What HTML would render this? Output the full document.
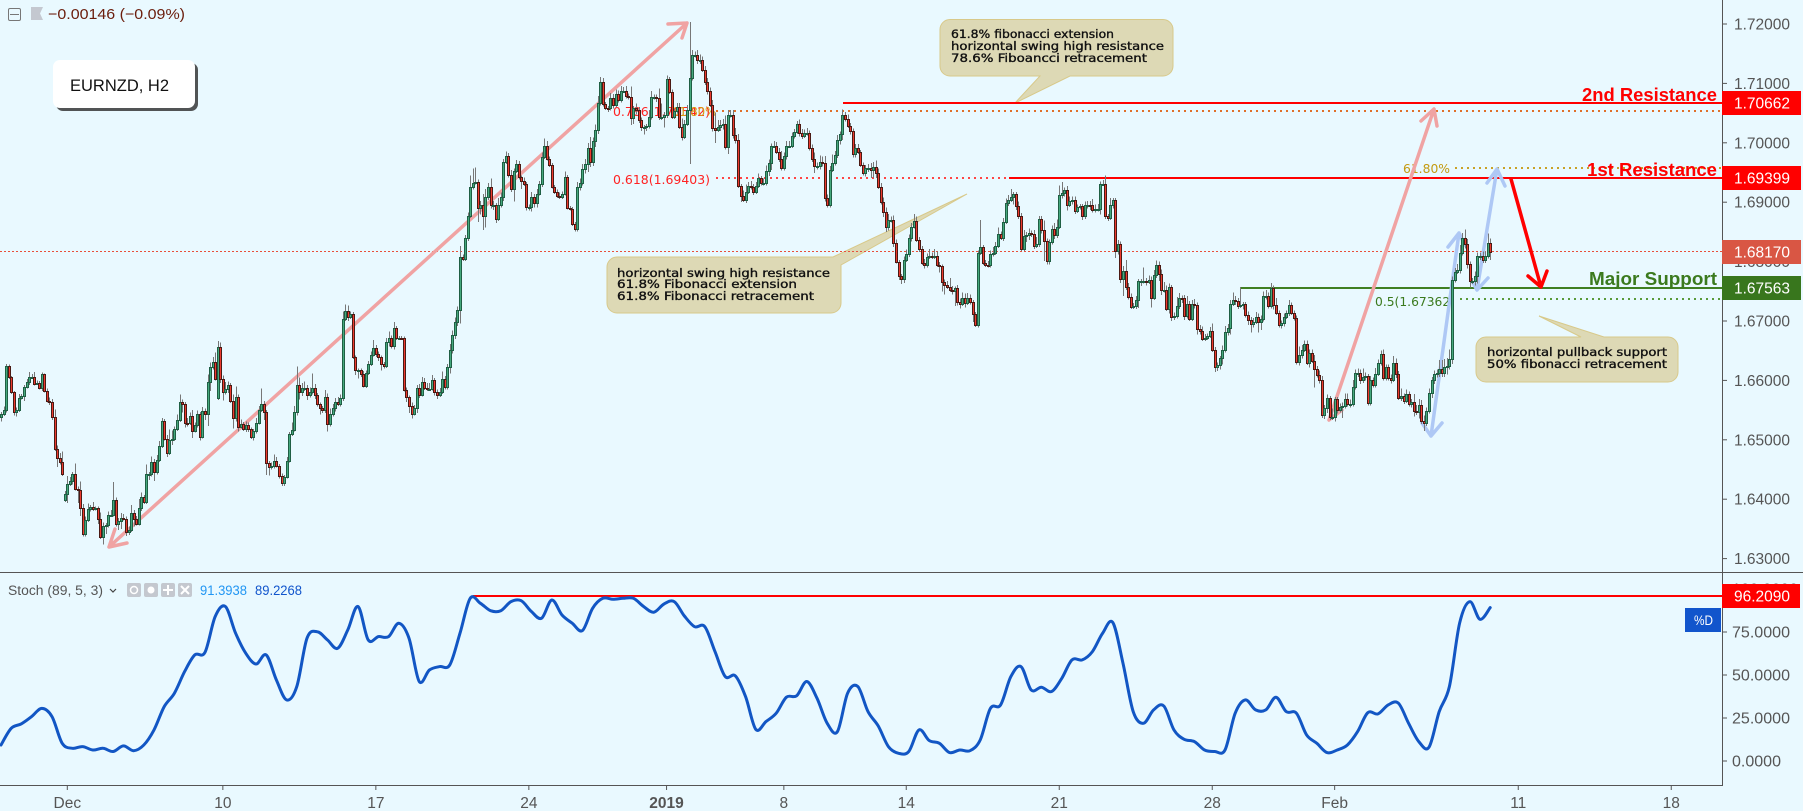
<!DOCTYPE html>
<html lang="en">
<head>
<meta charset="utf-8">
<title>EURNZD H2 chart</title>
<style>
html,body{margin:0;padding:0;background:#e9f9ff;}
#chart{display:block;width:1803px;height:811px;background:#e9f9ff;font-family:"Liberation Sans",sans-serif;}
.note{font-family:"DejaVu Sans",sans-serif;font-size:11.5px;fill:#111;stroke:#111;stroke-width:.35px;}
.fib{font-family:"DejaVu Sans",sans-serif;font-size:12.5px;}
.axis{font-size:15.5px;fill:#555;}
.tag{font-size:15.5px;fill:#fff;}
.lvl{font-size:18px;font-weight:bold;text-anchor:end;}
</style>
</head>
<body>
<svg id="chart" xmlns="http://www.w3.org/2000/svg" width="1803" height="811" viewBox="0 0 1803 811">
  <g id="notes">
    <path d="M950 19.5H1163a10 10 0 0 1 10 10V66a10 10 0 0 1-10 10H1070L1015 103L1040 76H950a10 10 0 0 1-10-10V29.5a10 10 0 0 1 10-10Z" fill="#ddd9b5" stroke="#d8c98a"/>
    <text class="note" x="951" y="38" textLength="163" lengthAdjust="spacingAndGlyphs">61.8% fibonacci extension</text>
    <text class="note" x="951" y="50" textLength="213" lengthAdjust="spacingAndGlyphs">horizontal swing high resistance</text>
    <text class="note" x="951" y="62" textLength="196" lengthAdjust="spacingAndGlyphs">78.6% Fiboancci retracement</text>
    <path d="M617 257H833L967 194L841 265V303a10 10 0 0 1-10 10H617a10 10 0 0 1-10-10V267a10 10 0 0 1 10-10Z" fill="#ddd9b5" stroke="#d8c98a"/>
    <text class="note" x="617" y="277" textLength="213" lengthAdjust="spacingAndGlyphs">horizontal swing high resistance</text>
    <text class="note" x="617" y="288" textLength="180" lengthAdjust="spacingAndGlyphs">61.8% Fibonacci extension</text>
    <text class="note" x="617" y="300" textLength="197" lengthAdjust="spacingAndGlyphs">61.8% Fibonacci retracement</text>
    <path d="M1486 337H1581L1539 316L1604 337H1668a10 10 0 0 1 10 10V372a10 10 0 0 1-10 10H1486a10 10 0 0 1-10-10V347a10 10 0 0 1 10-10Z" fill="#ddd9b5" stroke="#d8c98a"/>
    <text class="note" x="1487" y="356" textLength="180" lengthAdjust="spacingAndGlyphs">horizontal pullback support</text>
    <text class="note" x="1487" y="368" textLength="180" lengthAdjust="spacingAndGlyphs">50% fibonacci retracement</text>
  </g>
  <g id="levels"></g>
  <g>
    <text class="fib" x="613" y="116" fill="#f22" textLength="97" lengthAdjust="spacingAndGlyphs">0.786(1.70542)</text>
    <text class="fib" x="672" y="116" fill="#d89a10" textLength="44" lengthAdjust="spacingAndGlyphs">61.80%</text>
    <text class="fib" x="613" y="184" fill="#f22" textLength="97" lengthAdjust="spacingAndGlyphs">0.618(1.69403)</text>
    <text class="fib" x="1375" y="306" fill="#3b7a1e" textLength="80" lengthAdjust="spacingAndGlyphs">0.5(1.67362)</text>
    <text class="fib" x="1403" y="173" fill="#c49a10" textLength="47" lengthAdjust="spacingAndGlyphs">61.80%</text>
  </g>
  <g fill="none" stroke-linecap="round" stroke-linejoin="round" stroke-width="3.5">
    <path stroke="#f0a3a3" d="M109 547L687 23M668 24L687 23L682 38M115 529L109 547L127 543"/>
    <path stroke="#f0a3a3" d="M1329 420L1434 109M1421 121L1434 109L1437 126M1329 420L1342 410"/>
    <path stroke="#aec8f5" d="M1431 436L1459 233M1448 247L1459 233L1465 245M1422 423L1431 436L1442 423"/>
    <path stroke="#aec8f5" d="M1477 290L1497 169M1487 183L1497 169L1505 186M1473 283L1477 290L1488 278"/>
    <path stroke="#ff0000" d="M1511 179L1541 287M1528 276L1541 287L1547 271"/>
  </g>
  <g id="candles"></g>
  <g id="axes">
    <line x1="1722.5" y1="0" x2="1722.5" y2="786" stroke="#555"/>
    <line x1="0" y1="785.5" x2="1723" y2="785.5" stroke="#555"/>
    <line x1="0" y1="572.5" x2="1803" y2="572.5" stroke="#555"/>
  </g>
  <g id="stoch"></g>
  <g>
    <text class="lvl" x="1717" y="101" fill="#f00" textLength="135" lengthAdjust="spacingAndGlyphs">2nd Resistance</text>
    <text class="lvl" x="1717" y="176" fill="#f00" textLength="130" lengthAdjust="spacingAndGlyphs">1st Resistance</text>
    <text class="lvl" x="1717" y="285" fill="#3b7a1e" textLength="128" lengthAdjust="spacingAndGlyphs">Major Support</text>
  </g>
  <g id="tags"></g>
  <g>
    <rect x="8.5" y="8.5" width="12" height="12" rx="1.5" fill="none" stroke="#777"/>
    <line x1="10" y1="14.5" x2="19" y2="14.5" stroke="#777"/>
    <polygon points="31,7 43,7 40,13.5 43,20 31,20" fill="#c4c8d0"/>
    <text x="48" y="19" font-size="15" fill="#6b1d0c" textLength="137" lengthAdjust="spacingAndGlyphs">−0.00146 (−0.09%)</text>
  </g>
  <g>
    <rect x="56" y="63" width="142" height="48" rx="7" fill="#2a2a2a" opacity=".8"/>
    <rect x="53" y="60" width="142" height="48" rx="7" fill="#fff"/>
    <text x="70" y="91" font-size="16.5" fill="#111" textLength="99" lengthAdjust="spacingAndGlyphs">EURNZD, H2</text>
  </g>
  <g>
    <text x="8" y="595" font-size="13.5" fill="#555" textLength="95" lengthAdjust="spacingAndGlyphs">Stoch (89, 5, 3)</text>
    <path d="M110 589L113 592L116 589" fill="none" stroke="#444" stroke-width="1.2"/>
    <rect x="127" y="583" width="14" height="14" rx="2" fill="#c4c8cf"/>
    <circle cx="134" cy="590" r="3.5" fill="none" stroke="#fff" stroke-width="1.5"/>
    <rect x="144" y="583" width="14" height="14" rx="2" fill="#c4c8cf"/>
    <circle cx="151" cy="590" r="3.5" fill="#fff"/>
    <rect x="161" y="583" width="14" height="14" rx="2" fill="#c4c8cf"/>
    <path d="M168 585V595M163 590H173" stroke="#fff" stroke-width="2"/>
    <rect x="178" y="583" width="14" height="14" rx="2" fill="#c4c8cf"/>
    <path d="M181 586L189 594M189 586L181 594" stroke="#fff" stroke-width="2"/>
    <text x="200" y="595" font-size="13.5" fill="#2196f3" textLength="47" lengthAdjust="spacingAndGlyphs">91.3938</text>
    <text x="255" y="595" font-size="13.5" fill="#1155cc" textLength="47" lengthAdjust="spacingAndGlyphs">89.2268</text>
  </g>
</svg>
<script>
// Bar closes, in units of 0.0001 (16817 = 1.6817)
const closes = [
16543,16550,16625,16605,16580,16547,16551,16571,16573,16589,16598,16606,16606,16594,16596,16588,16610,16582,16566,16563,
16539,16484,16470,16462,16442,16408,16425,16431,16442,16418,16416,16386,16341,16365,16383,16387,16384,16385,16366,16336,
16355,16356,16373,16374,16399,16358,16364,16369,16367,16344,16348,16376,16366,16359,16386,16403,16396,16442,16442,16462,
16445,16466,16490,16531,16502,16477,16499,16502,16518,16533,16564,16560,16529,16528,16540,16515,16525,16543,16505,16549,
16543,16598,16622,16631,
16603,16656,16602,16580,16585,16592,16566,16537,16572,16522,16526,16519,16525,16518,16505,16514,16529,16551,16560,16547,
16461,16454,16456,16465,16456,16439,16428,16438,16465,16509,16517,16547,16593,16580,16588,16588,16575,16580,16588,16575,
16560,16553,16551,16572,16526,16543,16554,16564,16560,16571,
16704,16716,16706,16712,16639,16617,16617,16610,16591,16613,16627,16643,16654,16645,16639,16627,16624,16665,16672,16658,
16688,16672,16672,16671,16584,16572,16557,16544,16553,16588,16576,16598,16588,16586,16586,16601,16581,16575,16581,16603,
16589,16622,
16651,16676,16698,
16718,16808,16805,16839,16877,16925,16933,16934,16891,16896,16877,16908,16926,16895,16896,16871,16895,16908,16967,16977,
16946,16923,16953,16965,16942,16936,16930,16892,16892,16909,16899,16914,16930,16976,16995,16973,16963,16926,16917,16910,
16909,16914,16942,16891,16889,16864,16855,16926,16932,16956,16965,16992,16967,17003,17021,
17067,17103,17065,17059,17058,17076,17064,17082,17072,17088,17088,17079,17077,17042,17058,17056,17039,17026,17026,17028,
17043,17077,17077,17075,17044,17044,17046,17107,17086,17044,17053,17061,17027,17010,17032,17056,17109,17148,17148,17139,
17139,17123,17103,17087,17064,17025,17022,17026,17030,17032,16993,17047,17047,17013,17005,16928,16910,16903,16918,16928,16925,
16918,16928,16940,16932,16932,16952,16966,16995,16995,16985,16972,16957,16978,16995,16995,17011,17019,17031,17017,17012,
17016,17017,16991,16972,16961,16961,16967,16966,16907,16895,16955,16966,16980,17005,17015,17046,17040,17029,17020,16981,
16992,16985,16963,16949,16957,16958,16955,16960,16949,16926,16900,16883,16858,16870,16870,16831,16800,16775,
16770,16803,16812,16840,16859,16868,16837,16822,16798,16794,16808,16809,16808,16809,16795,16792,16766,16761,16758,16753,
16751,16755,16732,16729,16738,16731,16739,16732,16712,16693,16815,
16824,16797,16795,16794,16813,16815,16827,16847,16839,16867,16898,16904,16908,16913,16893,16876,16822,16843,16844,16848,
16847,16827,16829,16871,16853,16835,16801,16833,16855,16844,16859,16912,
16916,16921,16896,16902,16904,16886,16892,16893,16876,16895,16896,16895,16887,16888,16889,16931,
16931,16876,16874,16895,16903,16818,
16830,16770,16785,16758,16740,16724,16726,16736,16767,16767,16768,16766,16769,16739,16778,
16794,16779,16752,16752,16721,16757,16706,16708,16726,16739,16738,16708,16728,16704,16729,16727,16687,
16683,16670,16672,16675,16684,16652,16622,16626,16637,16651,16682,16689,16729,
16736,16733,16726,16727,16728,16710,16701,
16695,16699,16707,16699,16703,16742,16742,16725,16756,16727,16714,16693,16697,16707,16714,16727,16714,16705,16631,16643,
16652,16661,16630,16646,16633,16620,16609,16601,16541,16553,16570,16539,16539,16568,16550,16555,16557,16568,16560,16560,
16589,16612,16612,16600,16606,16607,16562,16601,16592,16611,16629,16644,16604,16623,16604,16601,16629,16610,16571,16574,16566,
16577,16560,16563,16549,16546,16559,16531,16529,16548,16578,16600,16611,16612,16620,16612,16622,16624,16636,16769,16783,
16786,
16814,16840,16830,16796,16768,16768,16775,16809,16809,16802,16809,16831,16817
];
// Upper wick length per bar, same units
const upperWicks = [
4,6,3,2,2,2,3,6,4,3,4,8,5,8,4,3,3,2,4,5,
6,12,6,8,18,6,14,6,4,18,3,14,6,6,10,3,8,3,3,12,
6,4,6,8,30,4,4,8,6,4,6,14,6,6,14,8,4,16,4,10,
6,8,8,6,4,6,18,14,4,10,12,4,4,8,6,10,4,6,4,6,
4,12,8,8,16,10,8,6,12,6,4,10,18,4,8,4,6,4,3,4,
8,6,26,5,3,3,6,10,6,3,4,3,6,4,12,10,30,12,8,10,
4,8,24,6,4,3,4,12,6,10,6,6,8,5,12,12,10,4,3,3,
3,3,6,4,6,6,14,6,4,3,4,6,10,4,10,4,3,3,3,4,
3,6,6,4,6,8,6,8,10,8,3,4,6,12,4,6,10,8,8,6,
18,4,6,6,20,24,24,4,6,18,14,6,14,6,3,12,8,6,8,6,
8,4,6,4,3,6,4,4,8,5,8,6,8,12,8,4,3,3,4,6,
4,10,4,3,3,3,8,8,8,8,8,18,6,10,12,8,6,4,3,8,
6,8,6,8,6,8,4,18,4,8,4,4,4,4,12,10,4,4,16,22,
6,6,4,4,4,6,6,14,6,8,94,8,6,8,10,6,6,6,6,8,
26,12,8,8,14,8,8,8,12,10,3,10,12,6,8,6,6,8,4,8,
10,6,4,8,6,6,14,6,8,8,6,4,6,8,6,6,8,4,6,12,
6,12,10,12,6,6,14,6,8,4,10,6,8,4,4,6,6,3,4,6,
6,8,8,10,8,6,8,8,10,6,8,6,3,4,6,8,6,6,12,8,
4,4,6,6,12,6,12,8,4,3,4,6,14,6,3,6,6,10,8,8,
6,3,3,4,46,4,6,6,6,10,6,10,4,6,8,8,14,4,4,8,
6,10,6,8,4,6,12,6,6,16,4,4,6,10,12,16,18,4,6,8,
6,6,4,4,4,6,6,6,10,8,8,4,6,14,4,12,4,4,6,4,
8,18,6,6,4,6,4,4,22,4,8,6,8,8,6,8,14,8,6,4,
6,14,8,4,6,14,6,6,8,4,6,8,6,4,6,12,4,4,4,8,
10,6,6,12,6,6,30,4,4,6,6,6,8,6,6,8,10,6,8,4,
12,4,4,6,4,8,4,4,4,14,8,6,6,6,6,10,4,8,6,6,
6,4,14,4,4,6,6,10,10,8,12,6,8,6,14,6,4,6,4,10,
6,6,8,4,4,6,12,8,6,12,4,8,4,6,14,10,10,8,10,6,
8,6,6,6,14,14,14,14,16,6,6,10,14,8,14,8,4,4,8,6,
6,8,8,16,8
];
// Lower wick length per bar, same units
const lowerWicks = [
8,3,4,3,3,6,8,4,3,8,3,6,4,3,2,3,6,2,3,4,
6,3,16,4,3,4,14,3,6,3,22,14,4,4,3,4,4,3,8,3,
12,14,4,3,3,4,10,14,3,6,4,3,12,3,3,6,4,4,10,4,
14,3,3,4,3,6,3,8,4,3,3,14,8,6,3,12,3,4,6,3,
10,20,16,4,3,3,6,14,4,6,4,18,6,8,3,4,6,5,4,6,
3,3,4,14,20,14,4,4,3,4,6,6,3,3,3,3,6,12,6,6,
8,4,4,6,4,10,6,6,12,4,4,6,3,4,6,4,6,3,3,8,
14,4,3,4,4,3,3,6,6,10,4,3,8,4,6,4,3,3,3,8,
12,8,3,8,6,3,4,4,4,3,6,6,3,4,4,4,10,6,6,6,
22,4,4,4,4,4,3,24,12,24,20,4,6,8,6,3,4,6,3,4,
6,22,4,4,14,3,6,6,8,8,8,3,4,3,3,4,3,3,3,4,
4,3,3,3,4,4,4,6,4,8,14,8,6,10,6,4,4,4,6,4,
6,4,4,4,4,4,4,12,10,8,6,6,12,6,4,4,4,6,6,6,
18,4,4,4,4,4,4,6,4,4,92,4,4,6,6,4,6,6,4,6,
22,4,6,8,4,12,4,6,6,4,10,3,4,4,4,6,4,4,4,4,
4,8,12,4,4,4,4,4,6,4,4,4,4,6,6,4,4,4,4,12,
6,6,6,6,4,4,4,4,6,8,10,4,4,6,6,6,4,4,4,6,
6,14,14,8,4,4,8,8,6,4,6,3,6,8,6,4,4,6,3,4,
6,4,6,4,4,4,4,4,10,16,16,4,4,6,26,6,8,4,8,4,
4,14,3,4,4,3,4,4,4,4,4,4,3,4,4,4,4,12,6,4,
4,4,10,8,6,6,4,4,6,34,6,6,4,6,4,4,6,6,10,4,
6,6,4,4,6,4,6,8,4,4,4,10,4,4,6,4,6,12,6,6,
28,6,4,4,4,6,14,8,4,6,4,16,4,6,12,8,4,4,8,6,
4,4,6,8,6,4,4,4,6,10,6,4,4,4,4,4,8,6,8,10,
4,6,12,4,6,6,4,8,4,8,14,6,4,18,14,4,6,4,4,8,
4,4,6,6,4,6,4,4,4,6,6,4,4,8,4,32,4,6,4,6,
8,6,6,8,6,4,18,4,4,6,4,4,6,6,4,6,4,4,4,4,
4,4,4,4,4,6,4,6,4,6,6,4,4,6,10,4,10,4,14,6,
4,8,6,6,6,6,6,12,6,8,4,4,6,4,8,8,12,6,8,12,
6,4,4,4,14
];
// Bars whose open gaps away from the previous close
const gapBars = [25, 85];
const gapOpens = [16399, 16570];
// Stochastic %D, sampled every 4 bars
const stochD = [
9.3,19,21.6,25.8,30.6,25.8,10.3,7.4,8.4,6.4,7.4,5.5,8.8,6,9.3,18.1,31.6,39.4,52,61.7,
63.2,84,89.8,74.3,62.6,56.4,61.7,47.1,35.5,43.3,71.4,75.2,70.4,65.5,76.2,89.8,70.4,72.3,72.3,80.1,
71.4,46.2,52.9,54.9,55.9,74.3,94.6,91.7,87.4,87.4,92.7,93.2,86.9,83,93.6,84.9,80.1,75.8,88.8,94.6,
94,94.6,94.6,89.8,86.5,91.3,92.7,84.3,78.1,78.1,63.6,49.1,49.5,37.4,18.4,22.9,27.8,37.1,37.9,46.2,
36.5,21.9,17.1,39.4,43.3,28.7,20.4,8.4,4.5,5.5,18.1,11.9,10.3,4.9,6.4,6,12.2,30.6,32.6,49,
54.9,41.3,42.9,40.4,48.1,58.8,58.8,63.6,74.3,80.5,56.8,28.7,21.9,29.7,32,18,12.6,11.3,6.4,5.5,
6.4,27.8,35.5,29.7,29.7,37.1,28.7,27.8,15.2,10.3,4.9,6.4,9.3,17.1,28.1,27.4,32.6,33.6,21.9,11.3,
8,28.7,43.3,80.1,92.7,82.4,89.2
];
const stochSampleBars = 4;
// Axis labels
const priceTickLabels = ["1.72000","1.71000","1.70000","1.69000","1.68000","1.67000","1.66000","1.65000","1.64000","1.63000"];
const stochTickLabels = ["100.0000","75.0000","50.0000","25.0000","0.0000"];
const timeLabels = ["Dec","10","17","24","2019","8","14","21","28","Feb","11","18"];
const timeBars = [26,87,147,207,261,307,355,415,475,523,595,655];
// Drawn levels
const resistance2 = 1.70662, resistance1 = 1.69399, support = 1.67563;
const fib786 = 1.70542, fib618 = 1.69403, fib50 = 1.67362, ext618 = 1.69580;
const lastPrice = 1.68170;
const stochCap = 96.2090;

const SVGNS = "http://www.w3.org/2000/svg";
const barX = i => 1 + i * 2.55;
const priceY = p => 24 + (1.72 - p) * 5940;
const unitY = u => priceY(u / 10000);
const stochY = v => 761 - v * 1.72;
const crispY = y => Math.floor(y) + 0.5;
const evenY = y => Math.round(y);
function mk(parent, tag, attrs, text) {
  const el = document.createElementNS(SVGNS, tag);
  for (const k in attrs) el.setAttribute(k, attrs[k]);
  if (text !== undefined) el.textContent = text;
  parent.appendChild(el);
  return el;
}
const levelsG = document.getElementById("levels");
const candlesG = document.getElementById("candles");
const axesG = document.getElementById("axes");
const stochG = document.getElementById("stoch");
const tagsG = document.getElementById("tags");

// last price line
let el = mk(levelsG, "line", {x1:0, x2:1722, y1:crispY(priceY(lastPrice)), y2:crispY(priceY(lastPrice)), stroke:"#e8503a", "stroke-dasharray":"2 2"});


// fib dotted lines
el = mk(levelsG, "line", {x1:716, x2:1722, y1:evenY(priceY(fib786)), y2:evenY(priceY(fib786)), stroke:"#e0702a", "stroke-width":2, "stroke-dasharray":"2 4"});


el = mk(levelsG, "line", {x1:716, x2:1009, y1:evenY(priceY(fib618)), y2:evenY(priceY(fib618)), stroke:"#f44", "stroke-width":2, "stroke-dasharray":"2 4"});


el = mk(levelsG, "line", {x1:1460, x2:1722, y1:evenY(priceY(fib50)), y2:evenY(priceY(fib50)), stroke:"#5a9a3a", "stroke-width":2, "stroke-dasharray":"2 4"});


el = mk(levelsG, "line", {x1:1455, x2:1722, y1:evenY(priceY(ext618)), y2:evenY(priceY(ext618)), stroke:"#c9a227", "stroke-width":2, "stroke-dasharray":"2 4"});


// solid levels
el = mk(levelsG, "line", {x1:843, x2:1722, y1:evenY(priceY(resistance2)), y2:evenY(priceY(resistance2)), stroke:"#ff0000", "stroke-width":2});


el = mk(levelsG, "line", {x1:1009, x2:1722, y1:evenY(priceY(resistance1)), y2:evenY(priceY(resistance1)), stroke:"#ff0000", "stroke-width":2});


el = mk(levelsG, "line", {x1:1241, x2:1722, y1:evenY(priceY(support)), y2:evenY(priceY(support)), stroke:"#3f7f22", "stroke-width":2});



// candles
closes.forEach((c, i) => {
  const g = gapBars.indexOf(i);
  const o = g >= 0 ? gapOpens[g] : (i ? closes[i - 1] : c - 4);
  const hi = Math.max(o, c) + (upperWicks[i] || 0);
  const lo = Math.min(o, c) - (lowerWicks[i] || 0);
  const up = c >= o;
  const cx = Math.round(barX(i));
  const wick = mk(candlesG, "line", {x1:cx + .5, x2:cx + .5, y1:unitY(hi), y2:unitY(lo), stroke:"#777", "shape-rendering":"crispEdges"});
  
  
  const top = Math.round(unitY(Math.max(o, c))) + .5;
  const bot = Math.round(unitY(Math.min(o, c))) + .5;
  const body = mk(candlesG, "rect", {x:cx - .5, y:top, width:2, height:Math.max(bot - top, 1), fill:up ? "#45a87d" : "#ec3a2e", stroke:up ? "#1f5f44" : "#4a1a14", "shape-rendering":"crispEdges"});
  
  
});

// price axis
priceTickLabels.forEach(t => {
  const y = priceY(parseFloat(t));
  const tk = mk(axesG, "line", {x1:1722, x2:1727, y1:y, y2:y, stroke:"#555"});
  
  
  const lb = mk(axesG, "text", {x:1734, y:y + 5.5, "class":"axis"}, t);
  
  
});
// time axis
timeLabels.forEach((t, n) => {
  const x = barX(timeBars[n]);
  const tk = mk(axesG, "line", {x1:x, x2:x, y1:785, y2:790, stroke:"#555"});
  
  
  const lb = mk(axesG, "text", {x:x, y:808, "class":"axis", "text-anchor":"middle", "font-weight":t === "2019" ? "bold" : "normal"}, t);
  
  
});
// stochastic axis
stochTickLabels.forEach(t => {
  const y = stochY(parseFloat(t));
  const tk = mk(axesG, "line", {x1:1722, x2:1727, y1:y, y2:y, stroke:"#555"});
  
  
  const lb = mk(axesG, "text", {x:1732, y:y + 5.5, "class":"axis", textLength:t.length > 7 ? 66 : (t.length > 6 ? 58 : 49), lengthAdjust:"spacingAndGlyphs"}, t);
  
  
});
// stochastic cap line + smoothed %D line
el = mk(stochG, "line", {x1:473, x2:1722, y1:evenY(stochY(stochCap)), y2:evenY(stochY(stochCap)), stroke:"#ff0000", "stroke-width":2});


const stochXY = stochD.map((v, k) => [barX(k * stochSampleBars), stochY(v)]);
let stochPath = "M" + stochXY[0][0].toFixed(1) + " " + stochXY[0][1].toFixed(1);
for (let k = 0; k < stochXY.length - 1; k++) {
  const p0 = stochXY[Math.max(k - 1, 0)], p1 = stochXY[k], p2 = stochXY[k + 1], p3 = stochXY[Math.min(k + 2, stochXY.length - 1)];
  const c1x = p1[0] + (p2[0] - p0[0]) / 6, c1y = p1[1] + (p2[1] - p0[1]) / 6;
  const c2x = p2[0] - (p3[0] - p1[0]) / 6, c2y = p2[1] - (p3[1] - p1[1]) / 6;
  stochPath += "C" + c1x.toFixed(1) + " " + c1y.toFixed(1) + " " + c2x.toFixed(1) + " " + c2y.toFixed(1) + " " + p2[0].toFixed(1) + " " + p2[1].toFixed(1);
}
el = mk(stochG, "path", {d:stochPath, fill:"none", stroke:"#1256c4", "stroke-width":3, "stroke-linejoin":"round", "stroke-linecap":"round"});



// price tags
function addTag(name, val, y, color, w) {
  const r = mk(tagsG, "rect", {x:1722, y:Math.round(y) - 12, width:w, height:24, fill:color});
  
  
  const t = mk(tagsG, "text", {x:1734, y:Math.round(y) + 5.5, "class":"tag"}, val);
  
  
}
addTag('second-resistance-tag', resistance2.toFixed(5), priceY(resistance2), "#ff0000", 79);
addTag('first-resistance-tag', resistance1.toFixed(5), priceY(resistance1), "#ff0000", 79);
addTag('last-price-tag', lastPrice.toFixed(5), priceY(lastPrice), "#d95644", 79);
addTag('major-support-tag', support.toFixed(5), priceY(support), "#38761d", 79);
addTag('stoch-high-tag', stochCap.toFixed(4), stochY(stochCap), "#ff0000", 78);
const dBox = mk(tagsG, "rect", {x:1685, y:608, width:36, height:24, fill:"#1155cc"});


const dTxt = mk(tagsG, "text", {x:1694, y:625, "font-size":14, fill:"#fff", textLength:19, lengthAdjust:"spacingAndGlyphs"}, "%D");


</script>
</body>
</html>
